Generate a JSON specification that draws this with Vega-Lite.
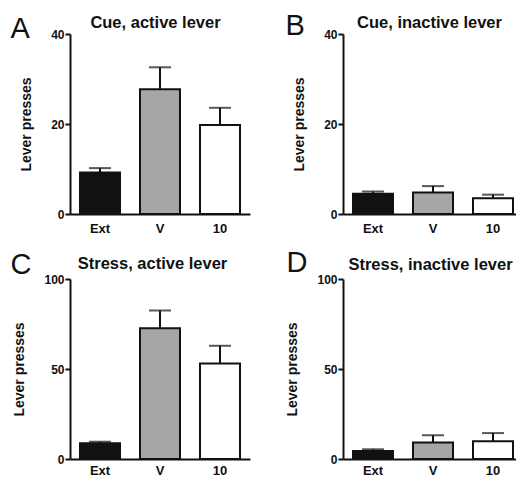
{
  "$schema": "https://vega.github.io/schema/vega-lite/v6.json",
  "padding": {"left": 10, "top": 11, "right": 0, "bottom": 0},
  "bounds": "flush",
  "columns": 2,
  "spacing": {"column": 93, "row": 65},
  "data": {"values": [
    {"panel": "A", "group": "Ext", "value": 9.2, "err": 10.2},
    {"panel": "A", "group": "V", "value": 27.7, "err": 32.6},
    {"panel": "A", "group": "10", "value": 19.8, "err": 23.6},
    {"panel": "B", "group": "Ext", "value": 4.5, "err": 5.0},
    {"panel": "B", "group": "V", "value": 4.8, "err": 6.2},
    {"panel": "B", "group": "10", "value": 3.5, "err": 4.3},
    {"panel": "C", "group": "Ext", "value": 8.7, "err": 9.6},
    {"panel": "C", "group": "V", "value": 72.7, "err": 82.5},
    {"panel": "C", "group": "10", "value": 53.0, "err": 62.9},
    {"panel": "D", "group": "Ext", "value": 4.5, "err": 5.4},
    {"panel": "D", "group": "V", "value": 9.1, "err": 13.2},
    {"panel": "D", "group": "10", "value": 9.9, "err": 14.4}
  ]},
  "config": {
    "font": "Liberation Sans",
    "view": {"stroke": null},
    "axis": {
      "grid": false,
      "domainColor": "#111111",
      "domainWidth": 2,
      "tickColor": "#111111",
      "tickWidth": 2,
      "tickSize": 5,
      "labelFont": "Liberation Sans",
      "labelFontWeight": "bold",
      "labelColor": "#111111",
      "titleFont": "Liberation Sans",
      "titleColor": "#111111"
    }
  },
  "concat": [
    {
      "width": 180, "height": 180,
      "transform": [{"filter": "datum.panel === 'A'"}],
      "resolve": {"axis": {"x": "independent", "y": "independent"}},
      "layer": [
        {
          "mark": {"type": "bar", "stroke": "#111111", "strokeWidth": 2},
          "encoding": {
            "x": {"field": "group", "type": "nominal", "sort": ["Ext", "V", "10"],
                  "scale": {"paddingInner": 0.3333, "paddingOuter": 0.1667},
                  "axis": {"title": null, "ticks": false, "labelAngle": 0, "labelFontSize": 13, "labelPadding": 8, "labelBaseline": "top"}},
            "y": {"field": "value", "type": "quantitative", "scale": {"domain": [0, 40], "nice": false},
                  "axis": {"values": [0, 20, 40], "title": "Lever presses", "titleFontSize": 14, "titleFontWeight": "bold", "labelFontSize": 12, "labelPadding": 1, "titlePadding": 17}},
            "color": {"field": "group", "type": "nominal", "scale": {"domain": ["Ext", "V", "10"], "range": ["#111111", "#a6a6a6", "#ffffff"]}, "legend": null}
          }
        },
        {
          "mark": {"type": "rule", "color": "#111111", "strokeWidth": 2},
          "encoding": {
            "x": {"field": "group", "type": "nominal", "sort": ["Ext", "V", "10"],
                  "axis": {"orient": "top", "labels": false, "ticks": false, "domain": false, "title": "Cue, active lever", "titleFontSize": 16.5, "titleFontWeight": "bold", "titleAngle": 0, "titleAlign": "center", "titleBaseline": "alphabetic", "titleX": 85, "titleY": -7}},
            "y": {"field": "value", "type": "quantitative", "axis": null},
            "y2": {"field": "err"}
          }
        },
        {
          "mark": {"type": "tick", "color": "#111111", "thickness": 2, "size": 22, "orient": "horizontal"},
          "encoding": {
            "x": {"field": "group", "type": "nominal", "sort": ["Ext", "V", "10"], "axis": null},
            "y": {"field": "err", "type": "quantitative",
                  "axis": {"orient": "right", "labels": false, "ticks": false, "domain": false, "title": "A", "titleFontSize": 29, "titleFontWeight": "normal", "titleAngle": 0, "titleAlign": "left", "titleBaseline": "alphabetic", "titleX": -240, "titleY": 3}}
          }
        }
      ]
    },
    {
      "width": 180, "height": 180,
      "transform": [{"filter": "datum.panel === 'B'"}],
      "resolve": {"axis": {"x": "independent", "y": "independent"}},
      "layer": [
        {
          "mark": {"type": "bar", "stroke": "#111111", "strokeWidth": 2},
          "encoding": {
            "x": {"field": "group", "type": "nominal", "sort": ["Ext", "V", "10"],
                  "scale": {"paddingInner": 0.3333, "paddingOuter": 0.1667},
                  "axis": {"title": null, "ticks": false, "labelAngle": 0, "labelFontSize": 13, "labelPadding": 8, "labelBaseline": "top"}},
            "y": {"field": "value", "type": "quantitative", "scale": {"domain": [0, 40], "nice": false},
                  "axis": {"values": [0, 20, 40], "title": "Lever presses", "titleFontSize": 14, "titleFontWeight": "bold", "labelFontSize": 12, "labelPadding": 1, "titlePadding": 17}},
            "color": {"field": "group", "type": "nominal", "scale": {"domain": ["Ext", "V", "10"], "range": ["#111111", "#a6a6a6", "#ffffff"]}, "legend": null}
          }
        },
        {
          "mark": {"type": "rule", "color": "#111111", "strokeWidth": 2},
          "encoding": {
            "x": {"field": "group", "type": "nominal", "sort": ["Ext", "V", "10"],
                  "axis": {"orient": "top", "labels": false, "ticks": false, "domain": false, "title": "Cue, inactive lever", "titleFontSize": 16.5, "titleFontWeight": "bold", "titleAngle": 0, "titleAlign": "center", "titleBaseline": "alphabetic", "titleX": 86, "titleY": -7}},
            "y": {"field": "value", "type": "quantitative", "axis": null},
            "y2": {"field": "err"}
          }
        },
        {
          "mark": {"type": "tick", "color": "#111111", "thickness": 2, "size": 22, "orient": "horizontal"},
          "encoding": {
            "x": {"field": "group", "type": "nominal", "sort": ["Ext", "V", "10"], "axis": null},
            "y": {"field": "err", "type": "quantitative",
                  "axis": {"orient": "right", "labels": false, "ticks": false, "domain": false, "title": "B", "titleFontSize": 29, "titleFontWeight": "normal", "titleAngle": 0, "titleAlign": "left", "titleBaseline": "alphabetic", "titleX": -238, "titleY": 0}}
          }
        }
      ]
    },
    {
      "width": 180, "height": 180,
      "transform": [{"filter": "datum.panel === 'C'"}],
      "resolve": {"axis": {"x": "independent", "y": "independent"}},
      "layer": [
        {
          "mark": {"type": "bar", "stroke": "#111111", "strokeWidth": 2},
          "encoding": {
            "x": {"field": "group", "type": "nominal", "sort": ["Ext", "V", "10"],
                  "scale": {"paddingInner": 0.3333, "paddingOuter": 0.1667},
                  "axis": {"title": null, "ticks": false, "labelAngle": 0, "labelFontSize": 13, "labelPadding": 5, "labelBaseline": "top"}},
            "y": {"field": "value", "type": "quantitative", "scale": {"domain": [0, 100], "nice": false},
                  "axis": {"values": [0, 50, 100], "title": "Lever presses", "titleFontSize": 14, "titleFontWeight": "bold", "labelFontSize": 12, "labelPadding": 1, "titlePadding": 17}},
            "color": {"field": "group", "type": "nominal", "scale": {"domain": ["Ext", "V", "10"], "range": ["#111111", "#a6a6a6", "#ffffff"]}, "legend": null}
          }
        },
        {
          "mark": {"type": "rule", "color": "#111111", "strokeWidth": 2},
          "encoding": {
            "x": {"field": "group", "type": "nominal", "sort": ["Ext", "V", "10"],
                  "axis": {"orient": "top", "labels": false, "ticks": false, "domain": false, "title": "Stress, active lever", "titleFontSize": 16.5, "titleFontWeight": "bold", "titleAngle": 0, "titleAlign": "center", "titleBaseline": "alphabetic", "titleX": 82, "titleY": -11}},
            "y": {"field": "value", "type": "quantitative", "axis": null},
            "y2": {"field": "err"}
          }
        },
        {
          "mark": {"type": "tick", "color": "#111111", "thickness": 2, "size": 22, "orient": "horizontal"},
          "encoding": {
            "x": {"field": "group", "type": "nominal", "sort": ["Ext", "V", "10"], "axis": null},
            "y": {"field": "err", "type": "quantitative",
                  "axis": {"orient": "right", "labels": false, "ticks": false, "domain": false, "title": "C", "titleFontSize": 29, "titleFontWeight": "normal", "titleAngle": 0, "titleAlign": "left", "titleBaseline": "alphabetic", "titleX": -240, "titleY": -6}}
          }
        }
      ]
    },
    {
      "width": 180, "height": 180,
      "transform": [{"filter": "datum.panel === 'D'"}],
      "resolve": {"axis": {"x": "independent", "y": "independent"}},
      "layer": [
        {
          "mark": {"type": "bar", "stroke": "#111111", "strokeWidth": 2},
          "encoding": {
            "x": {"field": "group", "type": "nominal", "sort": ["Ext", "V", "10"],
                  "scale": {"paddingInner": 0.3333, "paddingOuter": 0.1667},
                  "axis": {"title": null, "ticks": false, "labelAngle": 0, "labelFontSize": 13, "labelPadding": 5, "labelBaseline": "top"}},
            "y": {"field": "value", "type": "quantitative", "scale": {"domain": [0, 100], "nice": false},
                  "axis": {"values": [0, 50, 100], "title": "Lever presses", "titleFontSize": 14, "titleFontWeight": "bold", "labelFontSize": 12, "labelPadding": 1, "titlePadding": 17}},
            "color": {"field": "group", "type": "nominal", "scale": {"domain": ["Ext", "V", "10"], "range": ["#111111", "#a6a6a6", "#ffffff"]}, "legend": null}
          }
        },
        {
          "mark": {"type": "rule", "color": "#111111", "strokeWidth": 2},
          "encoding": {
            "x": {"field": "group", "type": "nominal", "sort": ["Ext", "V", "10"],
                  "axis": {"orient": "top", "labels": false, "ticks": false, "domain": false, "title": "Stress, inactive lever", "titleFontSize": 16.5, "titleFontWeight": "bold", "titleAngle": 0, "titleAlign": "center", "titleBaseline": "alphabetic", "titleX": 87, "titleY": -10}},
            "y": {"field": "value", "type": "quantitative", "axis": null},
            "y2": {"field": "err"}
          }
        },
        {
          "mark": {"type": "tick", "color": "#111111", "thickness": 2, "size": 22, "orient": "horizontal"},
          "encoding": {
            "x": {"field": "group", "type": "nominal", "sort": ["Ext", "V", "10"], "axis": null},
            "y": {"field": "err", "type": "quantitative",
                  "axis": {"orient": "right", "labels": false, "ticks": false, "domain": false, "title": "D", "titleFontSize": 29, "titleFontWeight": "normal", "titleAngle": 0, "titleAlign": "left", "titleBaseline": "alphabetic", "titleX": -237, "titleY": -8}}
          }
        }
      ]
    }
  ]
}
